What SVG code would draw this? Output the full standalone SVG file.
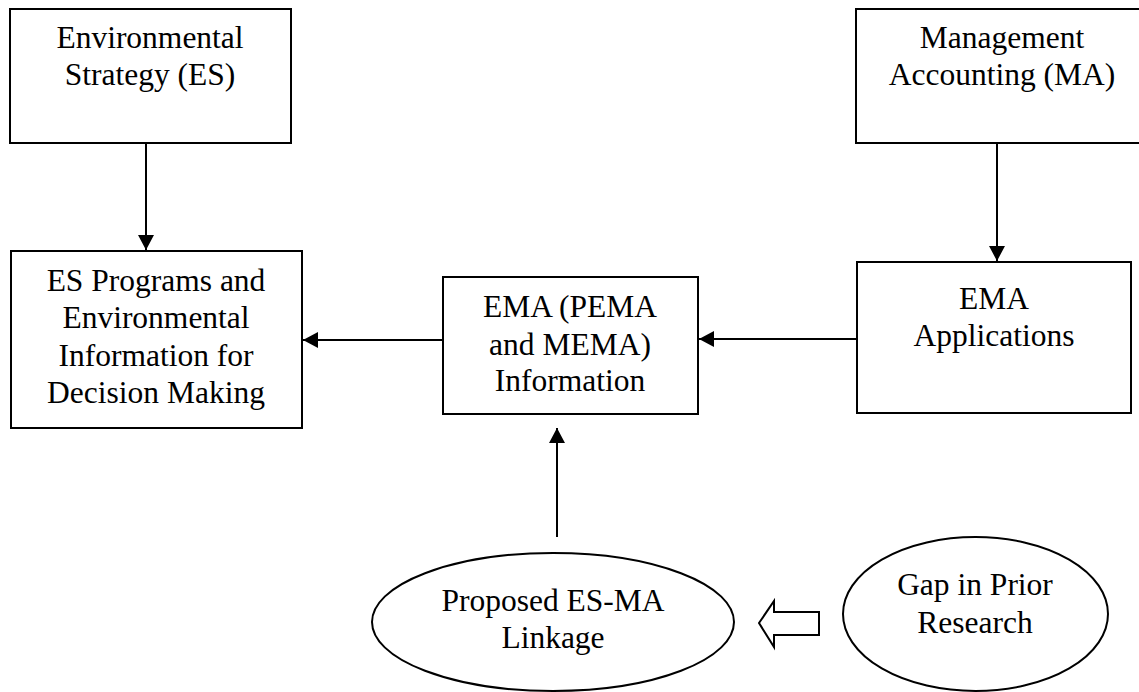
<svg xmlns="http://www.w3.org/2000/svg" width="1139" height="692" viewBox="0 0 1139 692">
<style>
.box{fill:#fff;stroke:#000;stroke-width:2}
.ell{fill:#fff;stroke:#000;stroke-width:2}
.t{font-family:"Liberation Serif","Times New Roman",serif;font-size:31.5px;fill:#000;text-anchor:middle}
.c{fill:none;stroke:#000;stroke-width:2}
</style>
<defs>
<marker id="ah" markerUnits="userSpaceOnUse" markerWidth="16" markerHeight="16" viewBox="0 0 16 16" refX="15" refY="8" orient="auto">
<path d="M0,0 L15,8 L0,16 Z" fill="#000"/>
</marker>
</defs>
<g id="es">
<rect class="box" x="10" y="9" width="281" height="134"/>
<text class="t" x="150" y="48">Environmental</text>
<text class="t" x="150" y="85">Strategy (ES)</text>
</g>
<g id="ma">
<rect class="box" x="856" y="9" width="292" height="134"/>
<text class="t" x="1002" y="48">Management</text>
<text class="t" x="1002" y="85">Accounting (MA)</text>
</g>
<g id="esprog">
<rect class="box" x="11" y="251" width="291" height="177"/>
<text class="t" x="156" y="291">ES Programs and</text>
<text class="t" x="156" y="328">Environmental</text>
<text class="t" x="156" y="366">Information for</text>
<text class="t" x="156" y="403">Decision Making</text>
</g>
<g id="emainfo">
<rect class="box" x="443" y="277" width="255" height="137"/>
<text class="t" x="570" y="317">EMA (PEMA</text>
<text class="t" x="570" y="355">and MEMA)</text>
<text class="t" x="570" y="391">Information</text>
</g>
<g id="emaapp">
<rect class="box" x="857" y="262" width="274" height="151"/>
<text class="t" x="994" y="309">EMA</text>
<text class="t" x="994" y="346">Applications</text>
</g>
<g id="proposed">
<ellipse class="ell" cx="553" cy="622" rx="181" ry="69"/>
<text class="t" x="553" y="611">Proposed ES-MA</text>
<text class="t" x="553" y="648">Linkage</text>
</g>
<g id="gap">
<ellipse class="ell" cx="975.5" cy="614" rx="132.5" ry="77"/>
<text class="t" x="975" y="595">Gap in Prior</text>
<text class="t" x="975" y="633">Research</text>
</g>
<g id="connectors">
<line class="c" x1="146" y1="143" x2="146" y2="250" marker-end="url(#ah)"/>
<line class="c" x1="997" y1="143" x2="997" y2="261" marker-end="url(#ah)"/>
<line class="c" x1="443" y1="340" x2="303" y2="340" marker-end="url(#ah)"/>
<line class="c" x1="857" y1="339" x2="699" y2="339" marker-end="url(#ah)"/>
<line class="c" x1="557" y1="537" x2="557" y2="428" marker-end="url(#ah)"/>
<polygon points="759,623 774,601 774,612 819,612 819,635 774,635 774,647" fill="#fff" stroke="#000" stroke-width="2"/>
</g>
</svg>
